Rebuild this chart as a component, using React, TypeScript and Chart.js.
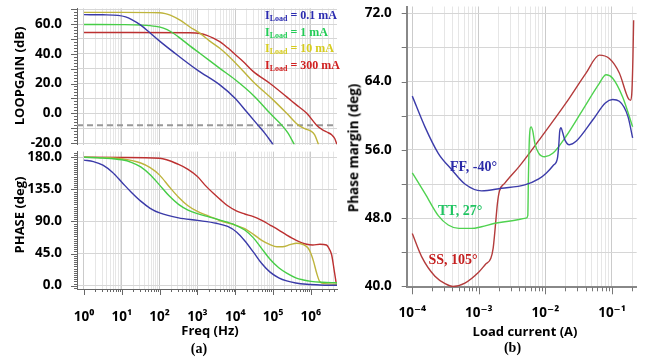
import React, { useEffect, useRef } from 'react';
import { Chart, registerables } from 'chart.js';
Chart.register(...registerables);

// ---------------- DATA ----------------
// Loop gain (x: log10 of frequency in Hz, y: dB)
const gain01mA: [number, number][] = [[0,66.3],[0.5,66.2],[0.9,65.8],[1.1,64.8],[1.25,63.2],[1.5,59.3],[1.75,54],[2.0,48.5],[2.5,38.5],[3.0,29],[3.6,18.9],[4.0,10],[4.3,1],[4.6,-8],[4.8,-14],[5.0,-21]];
const gain1mA: [number, number][] = [[0,59.7],[1,59.6],[1.5,59.3],[1.9,58.4],[2.1,57.2],[2.3,54.8],[2.54,50.5],[2.8,45.3],[3.07,40.2],[3.6,30],[4.0,22.5],[4.5,11.5],[4.92,0],[5.23,-8],[5.4,-13.5],[5.56,-21]];
const gain10mA: [number, number][] = [[0,67.8],[1,67.8],[2.0,67.6],[2.15,67],[2.28,66],[2.54,62.6],[2.8,58],[3.07,53.7],[3.3,49],[3.6,43.5],[4.0,34],[4.48,21],[5.0,9],[5.36,0],[5.67,-8],[5.85,-10.5],[6.0,-12],[6.1,-14.5],[6.2,-21]];
const gain300mA: [number, number][] = [[0,54.3],[1,54.3],[2.8,54.1],[3.07,53.6],[3.25,52.4],[3.42,50.5],[3.6,48],[3.8,44],[4.0,39.5],[4.2,35],[4.48,28],[4.92,20],[5.36,11],[5.6,6],[5.89,0],[6.15,-8],[6.3,-11],[6.42,-12.6],[6.55,-14.5],[6.63,-17],[6.69,-21]];
const gainMarkerDb = -8;

// Phase (x: log10 of frequency in Hz, y: deg)
const phase01mA: [number, number][] = [[0,176],[0.25,174],[0.5,169],[0.75,159],[1.0,145],[1.25,131],[1.5,118.5],[1.75,108.5],[2.0,102],[2.5,95],[3.0,91.5],[3.5,87.5],[3.8,83],[4.04,75],[4.25,63],[4.48,47],[4.7,31],[4.92,19],[5.15,11],[5.36,6.6],[5.6,3.8],[5.89,2],[6.24,1],[6.69,0.5]];
const phase1mA: [number, number][] = [[0,180],[0.5,179],[1.0,176.5],[1.25,173],[1.5,166.5],[1.75,155.5],[2.0,141],[2.25,126],[2.5,114],[2.75,106],[3.0,101],[3.3,96.5],[3.6,92],[4.0,85],[4.25,78],[4.48,67],[4.7,52],[4.92,37],[5.15,25],[5.36,17.5],[5.6,11],[5.8,8],[6.0,6],[6.3,4.7],[6.69,4]];
const phase10mA: [number, number][] = [[0,180],[0.5,179.5],[1.0,178],[1.5,172],[1.75,165.5],[2.0,155],[2.25,139],[2.5,124],[2.75,112],[3.0,104],[3.3,97.5],[3.6,91],[4.0,85],[4.25,80],[4.48,72],[4.7,63.5],[4.92,57.5],[5.1,54.5],[5.25,54.5],[5.45,57.5],[5.62,59.5],[5.8,57.5],[5.93,52.5],[6.0,45],[6.07,34],[6.15,18],[6.23,6],[6.35,2.8],[6.69,2]];
const phase300mA: [number, number][] = [[0,180],[1.0,179.8],[2.0,178.6],[2.5,170],[2.75,163],[3.0,153],[3.2,141],[3.42,129.5],[3.6,121],[3.8,112],[4.04,104.5],[4.25,100.5],[4.48,96.8],[4.7,91.5],[4.92,85],[5.15,78],[5.36,71],[5.6,64],[5.89,58],[6.05,57],[6.24,58],[6.41,57],[6.5,50],[6.55,43],[6.62,20],[6.67,3]];

// Phase margin (x: log10 of load current in A, y: deg)
const pmFF: [number, number][] = [[-4,62.3],[-3.81,58.7],[-3.61,55.6],[-3.41,53.7],[-3.21,52.0],[-2.96,51.2],[-2.66,51.5],[-2.31,51.9],[-2.1,52.6],[-1.985,53.3],[-1.88,54.2],[-1.82,55],[-1.8,56.5],[-1.785,58.2],[-1.765,58.6],[-1.74,58],[-1.71,57.2],[-1.64,56.6],[-1.54,57],[-1.29,59.5],[-1.1,61.5],[-0.99,61.9],[-0.89,61.7],[-0.76,59.9],[-0.69,57.4]];
const pmTT: [number, number][] = [[-4,53.3],[-3.81,50.9],[-3.61,48.3],[-3.46,47.2],[-3.3,46.8],[-3.11,46.8],[-2.96,47.0],[-2.76,47.4],[-2.5,47.7],[-2.29,48.0],[-2.265,48.3],[-2.255,53],[-2.24,57.5],[-2.215,58.7],[-2.19,58.2],[-2.16,56.8],[-2.1,55.6],[-2.01,55.2],[-1.89,55.6],[-1.69,57.6],[-1.44,60.7],[-1.19,63.8],[-1.09,64.8],[-0.99,64.4],[-0.84,62.2],[-0.69,58.7]];
const pmSS: [number, number][] = [[-4,46.2],[-3.86,43.5],[-3.66,41.2],[-3.5,40.3],[-3.39,40.0],[-3.21,40.4],[-3.0,41.7],[-2.9,42.6],[-2.82,43.3],[-2.785,44.5],[-2.76,46.4],[-2.72,49.8],[-2.69,51.2],[-2.61,52.1],[-2.39,54.1],[-2.09,57.2],[-1.69,61.5],[-1.39,65],[-1.19,67.1],[-1.04,66.7],[-0.89,65],[-0.76,62.1],[-0.72,61.8],[-0.70,63],[-0.685,67],[-0.675,71.2]];

// Axis ranges and ticks
const freqRange: [number, number] = [0.653, 4.9e6];
const freqDecades = [0, 1, 2, 3, 4, 5, 6];
const gainRange: [number, number] = [-21, 70.5];
const gainTicks = [-20, -10, 0, 10, 20, 30, 40, 50, 60, 70];
const gainLabelStep = 20;
const phaseRange: [number, number] = [-4.7, 188];
const phaseTicks = [0, 45, 90, 135, 180];
const currentRange: [number, number] = [8.24e-5, 0.235];
const currentDecades = [-4, -3, -2, -1];
const pmRange: [number, number] = [39.9, 72.8];
const pmTicks = [40, 44, 48, 52, 56, 60, 64, 68, 72];
const pmLabelStep = 8;

const seriesNames = ['0.1 mA', '1 mA', '10 mA', '300 mA'];

// ---------------- STYLE ----------------
const C_BLUE = 'rgb(58,58,168)';
const C_GREEN = 'rgb(70,205,70)';
const C_YELLOW = 'rgb(190,180,60)';
const C_RED = 'rgb(188,48,48)';
const C_BLUE_B = 'rgb(60,60,170)';
const C_GREEN_B = 'rgb(80,210,80)';
const C_RED_B = 'rgb(180,60,60)';
const SANS = "'Open Sans', 'DejaVu Sans', sans-serif";
const SERIF = "'Liberation Serif', 'DejaVu Serif', serif";

const SUP: Record<string, string> = { '0': '⁰', '1': '¹', '2': '²', '3': '³', '4': '⁴', '5': '⁵', '6': '⁶', '7': '⁷', '8': '⁸', '9': '⁹', '-': '⁻' };
const isDecade = (v: number) => v > 0 && Math.abs(Math.log10(v) - Math.round(Math.log10(v))) < 1e-9;
const decadeLabel = (v: number) => '10' + String(Math.round(Math.log10(v))).split('').map((c) => SUP[c]).join('');
const logTickList = (decades: number[], lo: number, hi: number) => {
  const out: { value: number }[] = [];
  decades.forEach((d) => {
    for (let k = 1; k <= 9; k++) {
      const v = k * Math.pow(10, d);
      if (v >= lo * 0.9999 && v <= hi) out.push({ value: v });
    }
  });
  return out;
};
const toPts = (arr: [number, number][]) => arr.map(([e, y]) => ({ x: Math.pow(10, e), y }));
const zeroPad = (s: any) => { s.paddingLeft = 0; s.paddingRight = 0; s.paddingTop = 0; s.paddingBottom = 0; };

const axisMarks = {
  id: 'axisMarks',
  afterDatasetsDraw(chart: any, _a: any, o: any) {
    const { ctx, chartArea: ca } = chart;
    ctx.save();
    ctx.strokeStyle = o.color || '#666';
    ctx.lineWidth = 1;
    if (o.yMinorStep) {
      const ys = chart.scales.y;
      const n0 = Math.ceil(ys.min / o.yMinorStep);
      const n1 = Math.floor(ys.max / o.yMinorStep);
      for (let n = n0; n <= n1; n++) {
        const v = n * o.yMinorStep;
        const r = v / o.yMajorStep;
        const major = Math.abs(r - Math.round(r)) < 1e-6;
        const p = Math.round(ys.getPixelForValue(v)) + 0.5;
        const len = major ? o.yMajorLen : o.yMinorLen;
        ctx.beginPath();
        ctx.moveTo(ca.left - len, p);
        ctx.lineTo(ca.left, p);
        ctx.stroke();
      }
    }
    if (o.xMarks) {
      const xs = chart.scales.x;
      for (const t of xs.ticks) {
        const p = Math.round(xs.getPixelForValue(t.value)) + 0.5;
        const len = isDecade(t.value) ? o.xMajorLen : o.xMinorLen;
        ctx.beginPath();
        ctx.moveTo(p, ca.bottom);
        ctx.lineTo(p, ca.bottom + len);
        ctx.stroke();
      }
    }
    ctx.restore();
  },
};

const lineDs = (label: string, arr: [number, number][], color: string, width = 1.4) => ({
  label,
  data: toPts(arr),
  borderColor: color,
  backgroundColor: color,
  borderWidth: width,
  pointRadius: 0,
  cubicInterpolationMode: 'monotone' as const,
  fill: false,
});

const gridColorX = (c: any) => (c.tick && isDecade(c.tick.value) ? '#cbcbcb' : '#e6e6e6');
const tickFont = { family: SANS, size: 13.5, weight: 'bold' as const };

function gainConfig(): any {
  return {
    type: 'line',
    data: {
      datasets: [
        lineDs('I_Load = 0.1 mA', gain01mA, C_BLUE),
        lineDs('I_Load = 1 mA', gain1mA, C_GREEN),
        lineDs('I_Load = 10 mA', gain10mA, C_YELLOW),
        lineDs('I_Load = 300 mA', gain300mA, C_RED),
        {
          label: 'marker',
          data: [{ x: freqRange[0], y: gainMarkerDb }, { x: freqRange[1], y: gainMarkerDb }],
          borderColor: '#999999',
          borderWidth: 2,
          borderDash: [6, 4],
          pointRadius: 0,
        },
      ],
    },
    options: {
      responsive: false,
      animation: false,
      devicePixelRatio: 1,
      layout: { padding: { left: 0, right: 8, top: 8.4, bottom: 5.5 } },
      plugins: {
        legend: { display: false },
        tooltip: { enabled: false },
        axisMarks: { color: '#666', yMinorStep: 2, yMajorStep: 10, yMajorLen: 6, yMinorLen: 3 },
      },
      scales: {
        x: {
          type: 'logarithmic',
          min: freqRange[0],
          max: freqRange[1],
          afterBuildTicks: (s: any) => { s.ticks = logTickList(freqDecades, 1, freqRange[1]); },
          ticks: { display: false, autoSkip: false, major: { enabled: false } },
          grid: { color: gridColorX, drawTicks: false },
          border: { display: false },
          afterFit: (s: any) => { s.height = 0; zeroPad(s); },
        },
        y: {
          type: 'linear',
          min: gainRange[0],
          max: gainRange[1],
          afterBuildTicks: (s: any) => { s.ticks = gainTicks.map((v) => ({ value: v })); },
          ticks: {
            autoSkip: false,
            padding: 15,
            color: '#000',
            font: tickFont,
            callback: (v: any) => (Number(v) % gainLabelStep === 0 ? Number(v).toFixed(1) : ''),
          },
          grid: { color: '#d6d6d6', drawTicks: false },
          border: { display: true, color: '#666', width: 1 },
          afterFit: (s: any) => { s.width = 77; zeroPad(s); },
        },
      },
    },
    plugins: [axisMarks],
  };
}

function phaseConfig(): any {
  return {
    type: 'line',
    data: {
      datasets: [
        lineDs('I_Load = 0.1 mA', phase01mA, C_BLUE),
        lineDs('I_Load = 1 mA', phase1mA, C_GREEN),
        lineDs('I_Load = 10 mA', phase10mA, C_YELLOW),
        lineDs('I_Load = 300 mA', phase300mA, C_RED),
      ],
    },
    options: {
      responsive: false,
      animation: false,
      devicePixelRatio: 1,
      layout: { padding: { left: 0, right: 8, top: 6.6, bottom: 0 } },
      plugins: {
        legend: { display: false },
        tooltip: { enabled: false },
        axisMarks: { color: '#666', yMinorStep: 3, yMajorStep: 45, yMajorLen: 6, yMinorLen: 3, xMarks: true, xMajorLen: 6, xMinorLen: 3 },
      },
      scales: {
        x: {
          type: 'logarithmic',
          min: freqRange[0],
          max: freqRange[1],
          afterBuildTicks: (s: any) => { s.ticks = logTickList(freqDecades, 1, freqRange[1]); },
          ticks: {
            autoSkip: false,
            maxRotation: 0,
            padding: 20,
            color: '#000',
            font: tickFont,
            major: { enabled: false },
            callback: (v: any) => (isDecade(Number(v)) ? decadeLabel(Number(v)) : ''),
          },
          grid: { color: gridColorX, drawTicks: false },
          border: { display: true, color: '#666', width: 1 },
          afterFit: (s: any) => { s.height = 69; zeroPad(s); },
        },
        y: {
          type: 'linear',
          min: phaseRange[0],
          max: phaseRange[1],
          afterBuildTicks: (s: any) => { s.ticks = phaseTicks.map((v) => ({ value: v })); },
          ticks: {
            autoSkip: false,
            padding: 15,
            color: '#000',
            font: tickFont,
            callback: (v: any) => Number(v).toFixed(1),
          },
          grid: { color: '#d6d6d6', drawTicks: false },
          border: { display: true, color: '#666', width: 1 },
          afterFit: (s: any) => { s.width = 77; zeroPad(s); },
        },
      },
    },
    plugins: [axisMarks],
  };
}

function pmConfig(): any {
  return {
    type: 'line',
    data: {
      datasets: [
        lineDs('FF, -40°', pmFF, C_BLUE_B),
        lineDs('TT, 27°', pmTT, C_GREEN_B),
        lineDs('SS, 105°', pmSS, C_RED_B),
      ],
    },
    options: {
      responsive: false,
      animation: false,
      devicePixelRatio: 1,
      layout: { padding: { left: 0, right: 8.3, top: 6.5, bottom: 0 } },
      plugins: {
        legend: { display: false },
        tooltip: { enabled: false },
        axisMarks: { color: '#777', yMinorStep: 4, yMajorStep: 4, yMajorLen: 5, yMinorLen: 5, xMarks: true, xMajorLen: 7, xMinorLen: 4 },
      },
      scales: {
        x: {
          type: 'logarithmic',
          min: currentRange[0],
          max: currentRange[1],
          afterBuildTicks: (s: any) => { s.ticks = logTickList(currentDecades, 1e-4, currentRange[1]); },
          ticks: {
            autoSkip: false,
            maxRotation: 0,
            padding: 18,
            color: '#000',
            font: tickFont,
            major: { enabled: false },
            callback: (v: any) => (isDecade(Number(v)) ? decadeLabel(Number(v)) : ''),
          },
          grid: { color: gridColorX, drawTicks: false },
          border: { display: true, color: '#888', width: 2 },
          afterFit: (s: any) => { s.height = 70.7; zeroPad(s); },
        },
        y: {
          type: 'linear',
          min: pmRange[0],
          max: pmRange[1],
          afterBuildTicks: (s: any) => { s.ticks = pmTicks.map((v) => ({ value: v })); },
          ticks: {
            autoSkip: false,
            padding: 15,
            color: '#000',
            font: tickFont,
            callback: (v: any) => (Number(v) % pmLabelStep === 0 ? Number(v).toFixed(1) : ''),
          },
          grid: { color: '#d6d6d6', drawTicks: false },
          border: { display: true, color: '#888', width: 2 },
          afterFit: (s: any) => { s.width = 61.7; zeroPad(s); },
        },
      },
    },
    plugins: [axisMarks],
  };
}

const abs = (extra: React.CSSProperties): React.CSSProperties => ({ position: 'absolute', whiteSpace: 'nowrap', ...extra });
const rotTitle = (cx: number, cy: number, size: number): React.CSSProperties =>
  abs({ left: cx, top: cy, transform: 'translate(-50%, -50%) rotate(-90deg)', font: `bold ${size}px ${SANS}`, color: '#000', lineHeight: 1 });
const centered = (cx: number, cy: number, font: string, color: string): React.CSSProperties =>
  abs({ left: cx, top: cy, transform: 'translate(-50%, -50%)', font, color, lineHeight: 1 });

const legendColors = ['#2b2bb0', '#22cc55', '#d6cc1e', '#d02020'];

export default function App() {
  const r1 = useRef<HTMLCanvasElement>(null);
  const r2 = useRef<HTMLCanvasElement>(null);
  const r3 = useRef<HTMLCanvasElement>(null);

  useEffect(() => {
    const charts = [
      new Chart(r1.current as HTMLCanvasElement, gainConfig()),
      new Chart(r2.current as HTMLCanvasElement, phaseConfig()),
      new Chart(r3.current as HTMLCanvasElement, pmConfig()),
    ];
    return () => charts.forEach((c) => c.destroy());
  }, []);

  return (
    <div style={{ position: 'fixed', left: 0, top: 0, width: 645, height: 358, background: '#fff', overflow: 'hidden' }}>
      <canvas ref={r1} width={345} height={150} style={{ position: 'absolute', left: 0, top: 0 }} />
      <canvas ref={r2} width={345} height={213} style={{ position: 'absolute', left: 0, top: 145 }} />
      <canvas ref={r3} width={300} height={358} style={{ position: 'absolute', left: 345, top: 0 }} />

      <div style={rotTitle(19, 76, 13)}>LOOPGAIN (dB)</div>
      <div style={rotTitle(19, 215, 13)}>PHASE (deg)</div>
      <div style={rotTitle(354, 148, 13.5)}>Phase margin (deg)</div>
      <div style={centered(210, 330, `bold 13px ${SANS}`, '#000')}>Freq (Hz)</div>
      <div style={centered(525, 331, `bold 13px ${SANS}`, '#000')}>Load current (A)</div>
      <div style={centered(199, 349, `bold 14px ${SERIF}`, '#000')}>(a)</div>
      <div style={centered(512.5, 348, `bold 14px ${SERIF}`, '#000')}>(b)</div>

      <div style={abs({ left: 265, top: 8, font: `bold 12px ${SERIF}`, lineHeight: '14.5px' })}>
        {seriesNames.map((n, i) => (
          <div key={n} style={{ color: legendColors[i] }}>
            I<span style={{ fontSize: 8, position: 'relative', top: 2 }}>Load</span> = {n}
          </div>
        ))}
      </div>

      <div style={abs({ left: 450, top: 160, font: `bold 14px ${SERIF}`, color: '#2a2aa8', lineHeight: 1 })}>FF, -40°</div>
      <div style={abs({ left: 438, top: 204, font: `bold 14px ${SERIF}`, color: '#22c462', lineHeight: 1 })}>TT, 27°</div>
      <div style={abs({ left: 428.5, top: 253, font: `bold 14px ${SERIF}`, color: '#c41e1e', lineHeight: 1 })}>SS, 105°</div>
    </div>
  );
}
